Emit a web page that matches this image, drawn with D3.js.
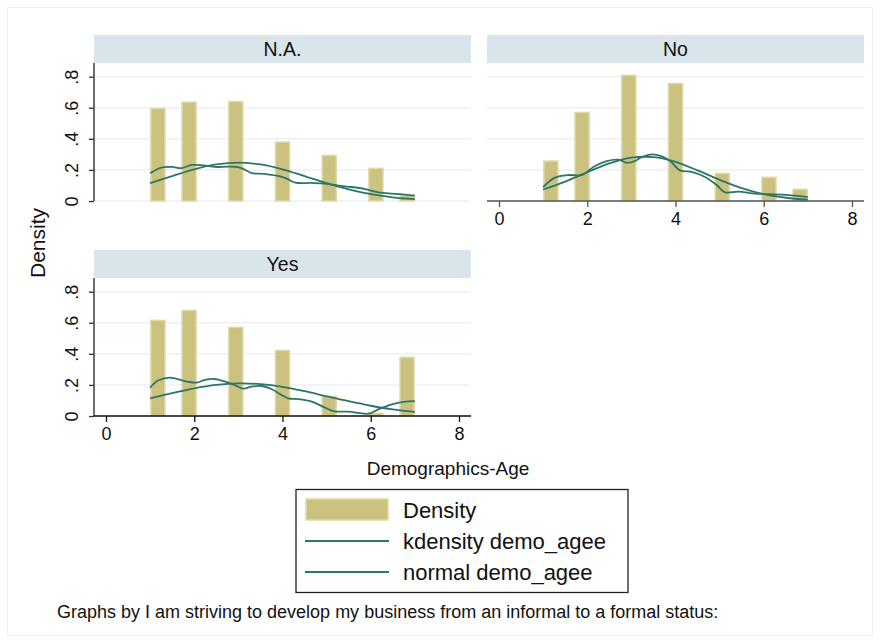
<!DOCTYPE html>
<html>
<head>
<meta charset="utf-8">
<script src="https://cdn.jsdelivr.net/npm/d3@7"></script>
<style>
  body { margin: 0; background: #fff; }
  svg { display: block; font-family: "Liberation Sans", Arial, sans-serif; }
</style>
</head>
<body>
<div id="chart"></div>
<script>
// histogram bins (age value 1..7 each falls in its own bin)
var ageValues = [1, 2, 3, 4, 5, 6, 7];
var binStarts = [1, 1.706, 2.765, 3.824, 4.882, 5.941, 6.647];
var binWidth = 0.353;

var densNA  = [0.600, 0.641, 0.645, 0.384, 0.298, 0.215, 0.041];
var densNo  = [0.262, 0.575, 0.813, 0.761, 0.183, 0.157, 0.080];
var densYes = [0.620, 0.684, 0.575, 0.427, 0.131, 0.022, 0.382];

// kernel density readings [x, density]
var kdensNA = [[1.0, 0.178], [1.22, 0.212], [1.49, 0.219], [1.72, 0.212], [1.94, 0.232], [2.21, 0.229],
  [2.47, 0.219], [2.77, 0.221], [3.04, 0.215], [3.30, 0.180], [3.57, 0.175], [3.87, 0.163],
  [4.10, 0.144], [4.29, 0.118], [4.66, 0.116], [4.97, 0.112], [5.27, 0.099], [5.57, 0.090],
  [5.87, 0.077], [6.17, 0.056], [6.48, 0.047], [6.78, 0.041], [7.0, 0.035]];
var kdensNo = [[1.0, 0.090], [1.27, 0.150], [1.57, 0.167], [1.88, 0.167], [2.14, 0.219], [2.44, 0.257],
  [2.71, 0.266], [2.90, 0.246], [3.08, 0.257], [3.24, 0.283], [3.46, 0.300], [3.69, 0.287],
  [3.88, 0.257], [4.10, 0.197], [4.37, 0.187], [4.67, 0.154], [4.94, 0.101], [5.12, 0.056],
  [5.43, 0.060], [5.80, 0.047], [6.26, 0.043], [6.71, 0.035], [7.0, 0.025]];
var kdensYes = [[1.0, 0.183], [1.19, 0.230], [1.45, 0.247], [1.72, 0.230], [1.87, 0.219], [2.06, 0.215],
  [2.24, 0.232], [2.47, 0.238], [2.70, 0.221], [2.93, 0.197], [3.11, 0.176], [3.30, 0.189],
  [3.53, 0.193], [3.76, 0.172], [3.95, 0.140], [4.13, 0.114], [4.36, 0.109], [4.66, 0.093],
  [4.89, 0.064], [5.15, 0.032], [5.49, 0.028], [5.95, 0.015], [6.17, 0.043], [6.48, 0.075],
  [6.78, 0.093], [7.0, 0.095]];

// normal density readings
var normX   = [1, 1.5, 2, 2.5, 3, 3.5, 4, 4.5, 5, 5.5, 6, 6.5, 7];
var normNA  = [0.115, 0.160, 0.204, 0.235, 0.247, 0.235, 0.204, 0.160, 0.115, 0.075, 0.044, 0.024, 0.012];
var normNo  = [0.074, 0.125, 0.185, 0.242, 0.279, 0.282, 0.252, 0.197, 0.136, 0.083, 0.044, 0.021, 0.009];
var normYes = [0.114, 0.147, 0.178, 0.200, 0.210, 0.205, 0.188, 0.160, 0.127, 0.095, 0.066, 0.042, 0.026];

var panelNames = ["N.A.", "No", "Yes"];
var yTicks = [0, 0.2, 0.4, 0.6, 0.8];
var yTickLabels = ["0", ".2", ".4", ".6", ".8"];
var xTicks = [0, 2, 4, 6, 8];
var legendLabels = ["Density", "kdensity demo_agee", "normal demo_agee"];
var xTitle = "Demographics-Age";
var yTitle = "Density";
var note = "Graphs by I am striving to develop my business from an informal to a formal status:";

var barFill = "#cbc27f";
var barEdge = "#dfd9a6";
var lineColor = "#2e7568";
var stripFill = "#d9e5eb";
var gridColor = "#eaf1f3";

var width = 880, height = 643;

var svg = d3.select("#chart").append("svg")
  .attr("width", width)
  .attr("height", height);

svg.append("rect")
  .attr("x", 7.5).attr("y", 7.5)
  .attr("width", 865).attr("height", 628)
  .attr("fill", "#fff")
  .attr("stroke", "#edf2f4");

var panels = [
  { name: panelNames[0], dens: densNA, kd: kdensNA, norm: normNA, left: 94, top: 35, yAxis: true, xAxis: false },
  { name: panelNames[1], dens: densNo, kd: kdensNo, norm: normNo, left: 487, top: 35, yAxis: false, xAxis: true },
  { name: panelNames[2], dens: densYes, kd: kdensYes, norm: normYes, left: 94, top: 250, yAxis: true, xAxis: true }
];

var panelW = 377, stripH = 28, plotH = 138;

panels.forEach(function (p) {
  var g = svg.append("g");
  var plotTop = p.top + stripH;
  var plotBottom = plotTop + plotH;

  var x = d3.scaleLinear().domain([-0.272, 8.272]).range([p.left, p.left + panelW]);
  var y = d3.scaleLinear().domain([0, 0.888]).range([plotBottom, plotTop]);

  // strip
  g.append("rect")
    .attr("x", p.left).attr("y", p.top)
    .attr("width", panelW).attr("height", stripH)
    .attr("fill", stripFill);
  g.append("text")
    .attr("x", p.left + panelW / 2)
    .attr("y", p.top + stripH / 2 + 7)
    .attr("text-anchor", "middle")
    .attr("font-size", 19.5)
    .attr("fill", "#111")
    .text(p.name);

  // grid lines
  g.selectAll(".grid").data(yTicks).enter().append("line")
    .attr("x1", p.left).attr("x2", p.left + panelW)
    .attr("y1", function (d) { return y(d); })
    .attr("y2", function (d) { return y(d); })
    .attr("stroke", gridColor)
    .attr("stroke-width", 1.5);

  // bars
  g.selectAll(".bar").data(p.dens).enter().append("rect")
    .attr("x", function (d, i) { return x(binStarts[i]) + 0.75; })
    .attr("y", function (d) { return y(d) + 0.75; })
    .attr("width", function (d, i) { return x(binStarts[i] + binWidth) - x(binStarts[i]) - 1.5; })
    .attr("height", function (d) { return y(0) - y(d) - 0.75; })
    .attr("fill", barFill)
    .attr("stroke", barEdge)
    .attr("stroke-width", 1.5);

  var line = d3.line()
    .x(function (d) { return x(d[0]); })
    .y(function (d) { return y(d[1]); })
    .curve(d3.curveCatmullRom);

  g.append("path")
    .attr("d", line(p.kd))
    .attr("fill", "none")
    .attr("stroke", lineColor)
    .attr("stroke-width", 1.8);

  g.append("path")
    .attr("d", line(normX.map(function (v, i) { return [v, p.norm[i]]; })))
    .attr("fill", "none")
    .attr("stroke", lineColor)
    .attr("stroke-width", 1.8);

  if (p.yAxis) {
    var ya = g.append("g").attr("transform", "translate(" + p.left + ",0)")
      .call(d3.axisLeft(y).tickValues(yTicks).tickSize(5)
        .tickFormat(function (d, i) { return yTickLabels[i]; }));
    ya.select(".domain").attr("d", "M0," + plotTop + "V" + plotBottom)
      .attr("stroke", "#222").attr("stroke-width", 1.3);
    ya.selectAll(".tick line").attr("stroke", "#333").attr("stroke-width", 1.3);
    ya.selectAll(".tick text")
      .attr("font-family", "Liberation Sans, Arial, sans-serif")
      .attr("font-size", 18)
      .attr("fill", "#111")
      .attr("x", null).attr("dy", null)
      .attr("text-anchor", "middle")
      .attr("transform", "translate(-16,0) rotate(-90)");
  }

  if (p.xAxis) {
    var xa = g.append("g").attr("transform", "translate(0," + plotBottom + ")")
      .call(d3.axisBottom(x).tickValues(xTicks).tickSize(6).tickSizeOuter(0));
    var axisCol = p.yAxis ? "#111" : "#555";
    xa.select(".domain").attr("d", "M" + p.left + ",0H" + (p.left + panelW))
      .attr("stroke", axisCol).attr("stroke-width", 1.5);
    xa.selectAll(".tick line").attr("stroke", axisCol).attr("stroke-width", 1.3);
    xa.selectAll(".tick text")
      .attr("font-family", "Liberation Sans, Arial, sans-serif")
      .attr("font-size", 18)
      .attr("fill", "#111")
      .attr("y", 11);
  }
});

// axis titles
svg.append("text")
  .attr("transform", "translate(45,243) rotate(-90)")
  .attr("text-anchor", "middle")
  .attr("font-size", 21)
  .attr("fill", "#111")
  .text(yTitle);

svg.append("text")
  .attr("x", 448).attr("y", 475)
  .attr("text-anchor", "middle")
  .attr("font-size", 19)
  .attr("fill", "#111")
  .text(xTitle);

// legend
var legend = svg.append("g");
legend.append("rect")
  .attr("x", 296).attr("y", 489.5)
  .attr("width", 332).attr("height", 103)
  .attr("fill", "#fff")
  .attr("stroke", "#222")
  .attr("stroke-width", 1.3);

var legendY = [510, 541, 572];
legend.append("rect")
  .attr("x", 306).attr("y", 499)
  .attr("width", 82).attr("height", 21)
  .attr("fill", barFill)
  .attr("stroke", barEdge)
  .attr("stroke-width", 1.5);
legend.selectAll(".lline").data(legendY.slice(1)).enter().append("line")
  .attr("x1", 305).attr("x2", 389)
  .attr("y1", function (d) { return d; })
  .attr("y2", function (d) { return d; })
  .attr("stroke", lineColor)
  .attr("stroke-width", 1.8);
legend.selectAll(".ltext").data(legendLabels).enter().append("text")
  .attr("x", 403)
  .attr("y", function (d, i) { return legendY[i] + 8; })
  .attr("font-size", 22)
  .attr("fill", "#111")
  .text(function (d) { return d; });

// note
svg.append("text")
  .attr("x", 57).attr("y", 618)
  .attr("font-size", 18)
  .attr("fill", "#111")
  .text(note);
</script>
</body>
</html>
